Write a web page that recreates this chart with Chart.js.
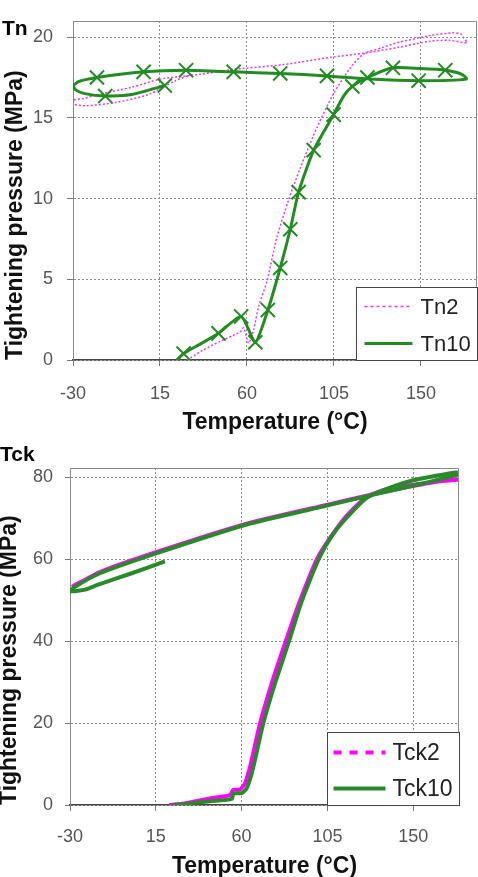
<!DOCTYPE html>
<html>
<head>
<meta charset="utf-8">
<script src="https://cdn.jsdelivr.net/npm/chart.js@4.4.0/dist/chart.umd.min.js"></script>
<style>
body { margin: 0; background: #fff; width: 478px; height: 877px; overflow: hidden; position: relative; }
.box { position: absolute; left: 0; width: 478px; }
</style>
</head>
<body>
<div class="box" style="top:0;height:436px"><canvas id="Canvas1" width="478" height="436"></canvas></div>
<div class="box" style="top:436px;height:441px"><canvas id="Canvas2" width="478" height="441"></canvas></div>
<script>
Chart.defaults.font.family = "'Liberation Sans', Arial, sans-serif";
Chart.defaults.color = '#555';

var xTicks = [-30, 15, 60, 105, 150];
var tnTicks = [0, 5, 10, 15, 20];
var tckTicks = [0, 20, 40, 60, 80];

// Tn2 (heating, cooling, reheating)
var tn2Temp = [29, 37, 46, 56.6, 58.3, 60.8, 63.4, 66, 70.4, 75.5, 81.5, 87.6, 96.2, 104.8, 113.5, 120.3, 130, 137.6, 154.8, 166.9, 170.5, 172.1, 173.8,
    165, 154.8, 137.6, 120.3, 103.1, 79, 53.1, 35.9, 15.2, 0.5, -16.8, -24.5, -29.7,
    -29.7, -23.6, -8.1, 9.1, 22.9, 31.6];
var tn2Press = [0, 0.6, 1.15, 1.75, 2.0, 1.05, 1.85, 3.3, 4.9, 7.6, 9.9, 11.9, 14.4, 16.5, 18.1, 18.95, 19.35, 19.65, 20.1, 20.27, 20.2, 19.96, 19.65,
    19.8, 19.75, 19.35, 19.0, 18.75, 18.3, 18.0, 17.7, 17.4, 16.9, 16.45, 16.2, 16.1,
    15.85, 15.75, 15.95, 16.45, 17.3, 17.7];

// Tn10
var tn10Temp = [23.8, 27.2, 36, 45.3, 57, 64.3, 70.8, 77.2, 82.4, 86.7, 94.5, 104.8, 110, 114.5, 122.3, 135.5, 149.7, 162.6, 171.2, 173.5,
    148.8, 123.8, 101.4, 77.2, 53.1, 28.5, 6.5, -17.6, -27, -29.7,
    -28.8, -24, -13.3, 0.5, 17.5];
var tn10Press = [0, 0.4, 1.0, 1.65, 2.7, 1.1, 3.1, 5.7, 8.1, 10.4, 13.0, 15.2, 16.35, 16.95, 17.5, 18.1, 18.05, 17.95, 17.7, 17.4,
    17.3, 17.4, 17.6, 17.75, 17.85, 17.95, 17.85, 17.5, 17.25, 17.0,
    16.75, 16.5, 16.35, 16.45, 17.0];
var tn10Marker = [0, 1, 0, 1, 1, 1, 1, 1, 1, 1, 1, 1, 0, 1, 1, 1, 0, 1, 0, 0,
    1, 0, 1, 1, 1, 1, 1, 1, 0, 0,
    0, 0, 1, 0, 1];

// Tck2
var tck2Temp = [22, 30, 43.4, 53.9, 55.7, 59.2, 61.8, 64, 65.3, 69.7, 76, 82.8, 89.5, 100, 113, 125.6, 139.6, 155.3, 165, 173.7,
    165, 151.8, 129.1, 104.6, 62.7, 15.5, -14.3, -29];
var tck2Press = [0, 0.4, 1.6, 2.4, 3.7, 3.8, 5.3, 8.6, 11, 20, 30, 39.5, 48.5, 60.5, 69.5, 75.3, 77.6, 78.5, 79.1, 79.5,
    79.2, 78.1, 75.9, 73.3, 68.7, 61.8, 56.9, 53.3];

// Tck10
var tck10Temp = [23.9, 30, 38.2, 43.4, 54.8, 55.7, 60.1, 62.7, 65.3, 67, 71.4, 77.5, 84.5, 90.6, 95, 101.1, 107, 113.4, 125.6, 139.6, 150, 160.6, 172.8,
    173.5, 151.8, 129.1, 104.6, 62.7, 15.5, -14.3, -28.3, -29.1,
    -22, -15.2, 2.4, 19.8];
var tck10Press = [0, 0.2, 0.65, 0.9, 1.5, 2.8, 2.9, 4.1, 7.7, 11, 20, 29.7, 39.5, 48.5, 54, 60.7, 65.5, 69.3, 75, 77.8, 79.3, 80.3, 81.2,
    80.7, 78.2, 75.8, 73.1, 68.5, 61.5, 56.6, 53, 52.2,
    52.6, 53.8, 56.6, 59.5];

function pts(xs, ys) {
    return xs.map(function (x, i) { return {x: x, y: ys[i]}; });
}

// frame on top/right, corner label and boxed legend
var boxPlugin = {
    id: 'boxLegend',
    afterDatasetsDraw: function (chart) {
        var a = chart.chartArea, ctx = chart.ctx;
        ctx.save();
        ctx.strokeStyle = '#8a8a8a';
        ctx.lineWidth = 1;
        ctx.beginPath();
        ctx.moveTo(Math.round(a.left) + 0.5, Math.round(a.top) + 0.5);
        ctx.lineTo(Math.round(a.right) - 0.5, Math.round(a.top) + 0.5);
        ctx.lineTo(Math.round(a.right) - 0.5, Math.round(a.bottom));
        ctx.stroke();
        ctx.restore();
    },
    afterDraw: function (chart, args, o) {
        var a = chart.chartArea, ctx = chart.ctx;
        ctx.save();
        ctx.fillStyle = '#000';
        ctx.font = 'bold 21px ' + Chart.defaults.font.family;
        ctx.textBaseline = 'middle';
        ctx.textAlign = 'left';
        ctx.fillText(o.label, o.labelX, o.labelY);

        var x0 = Math.round(a.right - o.width) + 0.5;
        var y0 = Math.round(a.bottom - o.height) + 0.5;
        ctx.fillStyle = '#fff';
        ctx.fillRect(x0, y0, o.width, o.height);
        ctx.strokeStyle = '#444';
        ctx.lineWidth = 1;
        ctx.strokeRect(x0, y0, o.width, o.height);

        ctx.font = o.fontSize + 'px ' + Chart.defaults.font.family;
        chart.data.datasets.forEach(function (ds, i) {
            var cy = y0 + o.rows[i];
            var sx = x0 + o.sampleLeft;
            ctx.strokeStyle = ds.borderColor;
            ctx.lineWidth = ds.legendWidth;
            ctx.setLineDash(ds.legendDash);
            ctx.beginPath();
            ctx.moveTo(sx, cy);
            ctx.lineTo(sx + o.sampleLen, cy);
            ctx.stroke();
            ctx.setLineDash([]);
            if (ds.pointStyle === 'crossRot') {
                ctx.lineWidth = 2.5;
                Chart.helpers.drawPoint(ctx, {pointStyle: 'crossRot', radius: 11, rotation: 0}, sx + o.sampleLen / 2, cy);
            }
            ctx.fillStyle = '#222';
            ctx.fillText(ds.label, sx + o.sampleLen + o.textGap, cy + 1);
        });
        ctx.restore();
    }
};

function makeOptions(c) {
    return {
        responsive: false,
        animation: false,
        devicePixelRatio: 1,
        layout: {autoPadding: false, padding: {top: c.top, right: c.right, left: 0, bottom: 0}},
        plugins: {
            legend: {display: false},
            tooltip: {enabled: false},
            boxLegend: c.legend
        },
        scales: {
            x: {
                type: 'linear',
                min: -30,
                max: c.xMax,
                afterBuildTicks: function (s) { s.ticks = xTicks.map(function (v) { return {value: v}; }); },
                afterFit: function (s) { s.height = c.xHeight; s.paddingLeft = 0; s.paddingRight = 0; },
                grid: {color: '#8c8c8c', tickColor: '#777', tickLength: 6, tickBorderDash: []},
                border: {color: '#444', width: 1.5, dash: [2, 2]},
                ticks: {color: '#555', padding: c.xPad, font: {size: 18, lineHeight: 1}},
                title: {display: true, text: 'Temperature (°C)', color: '#111',
                    font: {size: 23, weight: 'bold', lineHeight: 1}, padding: {top: 0, bottom: c.xTitlePad}}
            },
            y: {
                min: 0,
                max: c.yMax,
                afterBuildTicks: function (s) { s.ticks = c.yTicks.map(function (v) { return {value: v}; }); },
                afterFit: function (s) { s.width = c.yWidth; s.paddingTop = 0; s.paddingBottom = 0; },
                grid: {color: '#8c8c8c', tickColor: '#777', tickLength: c.yTick, tickBorderDash: []},
                border: {color: '#8a8a8a', width: 1, dash: [2, 2]},
                ticks: {color: '#555', padding: c.yPad, font: {size: 18, lineHeight: 1}},
                title: {display: true, align: 'start', text: 'Tightening pressure (MPa)', color: '#111',
                    font: {size: 23, weight: 'bold', lineHeight: 1}, padding: {top: c.yTitlePad, bottom: 0}}
            }
        }
    };
}

// Canvas 1
var GKChart = document.getElementById('Canvas1').getContext('2d');
var myChart = new Chart(GKChart, {
    type: 'scatter',
    data: {
        datasets: [{
            label: 'Tn2',
            data: pts(tn2Temp, tn2Press),
            showLine: true,
            borderColor: '#e838e8',
            borderWidth: 1.5,
            borderDash: [2, 2],
            pointRadius: 0,
            tension: 0.25,
            order: 1,
            legendDash: [3, 3],
            legendWidth: 1.5
        }, {
            label: 'Tn10',
            data: pts(tn10Temp, tn10Press),
            showLine: true,
            borderColor: '#228b22',
            borderWidth: 3,
            pointStyle: 'crossRot',
            pointRadius: function (ctx) { return tn10Marker[ctx.dataIndex] ? 10 : 0; },
            pointBorderColor: '#228b22',
            pointBorderWidth: 2,
            tension: 0.2,
            order: 0,
            legendDash: [],
            legendWidth: 3
        }]
    },
    options: makeOptions({top: 21, right: 1, xMax: 179, xHeight: 76, xPad: 19, xTitlePad: 2,
        yMax: 21, yTicks: tnTicks, yWidth: 73, yTick: 6, yPad: 14, yTitlePad: 4.5,
        legend: {label: 'Tn', labelX: 2, labelY: 29, width: 121, height: 73, rows: [19, 56],
            sampleLeft: 8, sampleLen: 48, textGap: 8, fontSize: 22}}),
    plugins: [boxPlugin]
});

// Canvas 2
var GKChart2 = document.getElementById('Canvas2').getContext('2d');
var myChart2 = new Chart(GKChart2, {
    type: 'scatter',
    data: {
        datasets: [{
            label: 'Tck2',
            data: pts(tck2Temp, tck2Press),
            showLine: true,
            borderColor: '#ff00ff',
            borderWidth: 4,
            pointRadius: 0,
            tension: 0.2,
            order: 1,
            legendDash: [8, 8],
            legendWidth: 4
        }, {
            label: 'Tck10',
            data: pts(tck10Temp, tck10Press),
            showLine: true,
            borderColor: '#2a8a2a',
            borderWidth: 4,
            pointRadius: 0,
            tension: 0.2,
            order: 0,
            legendDash: [],
            legendWidth: 4
        }]
    },
    options: makeOptions({top: 32, right: 19, xMax: 174, xHeight: 72, xPad: 17, xTitlePad: -1,
        yMax: 82.3, yTicks: tckTicks, yWidth: 70, yTick: 5, yPad: 12, yTitlePad: -2,
        legend: {label: 'Tck', labelX: 0, labelY: 19, width: 132, height: 73, rows: [20, 56],
            sampleLeft: 6, sampleLen: 52, textGap: 7, fontSize: 23}}),
    plugins: [boxPlugin]
});
</script>
</body>
</html>
